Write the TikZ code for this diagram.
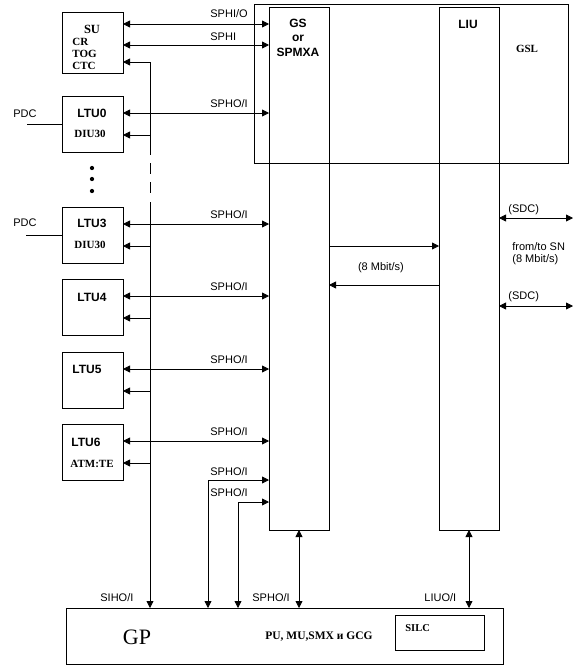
\documentclass[tikz,border=0pt]{standalone}
\usepackage{fontspec}
\setmainfont{Liberation Serif}
\newfontfamily\arial{Liberation Sans}
\usetikzlibrary{arrows.meta}
\begin{document}
\begin{tikzpicture}[x=1pt,y=-1pt, line width=0.8pt,
  box/.style={draw, inner sep=0pt, outer sep=0pt},
  sl/.style={font=\arial\fontsize{11}{12}\selectfont, inner sep=0pt, anchor=west},
  sc/.style={font=\arial\fontsize{11}{12}\selectfont, inner sep=0pt},
  bsans/.style={font=\arial\bfseries\fontsize{12}{13}\selectfont, inner sep=0pt},
  bser/.style={font=\bfseries\fontsize{11}{12}\selectfont, inner sep=0pt},
  arr/.style={-{Triangle[length=7pt,width=7pt]}},
  darr/.style={{Triangle[length=7pt,width=7pt]}-{Triangle[length=7pt,width=7pt]}}]
\useasboundingbox (0,0) rectangle (579,672);

% boxes
\node[box, minimum width=61pt, minimum height=61pt] (su) at (92.5,42.5) {};
\node[box, minimum width=61pt, minimum height=56pt] (ltu0) at (92.5,124) {};
\node[box, minimum width=61pt, minimum height=56pt] (ltu3) at (92.5,235) {};
\node[box, minimum width=61pt, minimum height=56pt] (ltu4) at (92.5,307) {};
\node[box, minimum width=61pt, minimum height=56pt] (ltu5) at (92.5,380) {};
\node[box, minimum width=61pt, minimum height=56pt] (ltu6) at (92.5,452) {};
\node[box, minimum width=314pt, minimum height=159pt] (gsl) at (411,83.5) {};
\node[box, minimum width=60pt, minimum height=523pt] (gs) at (299,268.5) {};
\node[box, minimum width=60pt, minimum height=523pt] (liu) at (469,268.5) {};
\node[box, minimum width=437pt, minimum height=56pt] (gp) at (284.5,636) {};
\node[box, minimum width=89pt, minimum height=35pt] (silc) at (439.5,632.5) {};

% box texts
\node[bser, font=\bfseries\fontsize{12.5}{13}\selectfont] (tsu) at (92,29) {SU};
\node[bser, anchor=west] (tcr) at (72,42) {CR};
\node[bser, anchor=west] (ttog) at (72,54) {TOG};
\node[bser, anchor=west] (tctc) at (72,66) {CTC};
\node[bsans] (tltu0) at (92,113) {LTU0};
\node[bser] (tdiu0) at (90,134) {DIU30};
\node[bsans] (tltu3) at (92,223) {LTU3};
\node[bser] (tdiu3) at (90,245) {DIU30};
\node[bsans] (tltu4) at (92,297) {LTU4};
\node[bsans] (tltu5) at (87,369) {LTU5};
\node[bsans] (tltu6) at (86,442) {LTU6};
\node[bser] (tatm) at (92,464) {ATM:TE};
\node[bsans] (tgs) at (298,23) {GS};
\node[bsans] (tor) at (298,38) {or};
\node[bsans] (tspmxa) at (298,52) {SPMXA};
\node[bsans] (tliu) at (468,24) {LIU};
\node[bser] (tgsl) at (527,49) {GSL};
\node[font=\fontsize{22}{23}\selectfont, inner sep=0pt] (tgp) at (137,637) {GP};
\node[bser, font=\bfseries\fontsize{11.5}{12}\selectfont] (tpu) at (319,637) {PU, MU,SMX и GCG};
\node[bser, font=\bfseries\fontsize{10.5}{11}\selectfont, anchor=west] (tsilc) at (405,628) {SILC};

% dots
\node[circle, fill, inner sep=1.5pt] (dot1) at (92,168) {};
\node[circle, fill, inner sep=1.5pt] (dot2) at (92,179) {};
\node[circle, fill, inner sep=1.5pt] (dot3) at (92,191) {};

% PDC
\draw (ltu0.west) -- ++(-35,0) coordinate (p0);
\draw (ltu3.west) -- ++(-36,0) coordinate (p3);
\node[sl] (pdc0) at (13,114) {PDC};
\node[sl] (pdc3) at (13,223) {PDC};

% SU arrows
\draw[darr] ([yshift=-12pt]su.north east) coordinate (s1) -- (s1 -| gs.west);
\draw[darr] ([yshift=-33pt]su.north east) coordinate (s2) -- (s2 -| gs.west);
\node[sl] (lsphio) at (210,14) {SPHI/O};
\node[sl] (lsphi) at (210,37) {SPHI};

% bus
\coordinate (b0) at (150,62);
\coordinate (b1) at (150,155);
\coordinate (b2) at (150,163);
\coordinate (b3) at (150,194);
\coordinate (b4) at (150,202);
\draw[arr] (b0) -- (b0 -| su.east);
\draw (b0) -- (b1);
\draw[dash pattern=on 11pt off 8pt] (b2) -- (b3);
\draw[arr] (b4) -- (b4 |- gp.north);

% LTU connections
\foreach \n in {ltu0,ltu3,ltu4,ltu5,ltu6} {
  \draw[darr] ([yshift=-17pt]\n.north east) coordinate (d\n) -- (d\n -| gs.west);
  \path ([yshift=-39pt]\n.north east) coordinate (s\n);
  \draw[arr] (s\n -| b0) -- (s\n);
  \path (d\n) ++(87,-9) node[sl] (l\n) {SPHO/I};
}

% lower loops to GP
\coordinate (c1) at (208,480);
\coordinate (c2) at (238,502);
\draw[darr] (c1 -| gs.west) -- (c1) -- (c1 |- gp.north);
\draw[darr] (c2 -| gs.west) -- (c2) -- (c2 |- gp.north);
\node[sl] (lc1) at (210,472) {SPHO/I};
\node[sl] (lc2) at (210,493) {SPHO/I};
\draw[darr] (gs.south) -- (gs.south |- gp.north);
\draw[darr] (liu.south) -- (liu.south |- gp.north);
\node[sl] (lsiho) at (100,598) {SIHO/I};
\node[sl] (lspho) at (252,598) {SPHO/I};
\node[sl] (lliuo) at (424,598) {LIUO/I};

% GS <-> LIU
\coordinate (m1) at (0,246);
\coordinate (m2) at (0,285);
\draw[arr] (gs.east |- m1) -- (liu.west |- m1);
\draw[arr] (liu.west |- m2) -- (gs.east |- m2);
\node[sc] (lmbit) at (381,268) {(8 Mbit/s)};

% right side SDC
\coordinate (r1) at (573,218);
\coordinate (r2) at (573,306);
\draw[darr] (liu.east |- r1) -- (r1);
\draw[darr] (liu.east |- r2) -- (r2);
\node[sl] (lsdc1) at (508,210) {(SDC)};
\node[sl] (lsdc2) at (508,297) {(SDC)};
\node[sl] (lsn) at (512,247) {from/to SN};
\node[sl] (lsnm) at (512,260) {(8 Mbit/s)};
\end{tikzpicture}
\end{document}
